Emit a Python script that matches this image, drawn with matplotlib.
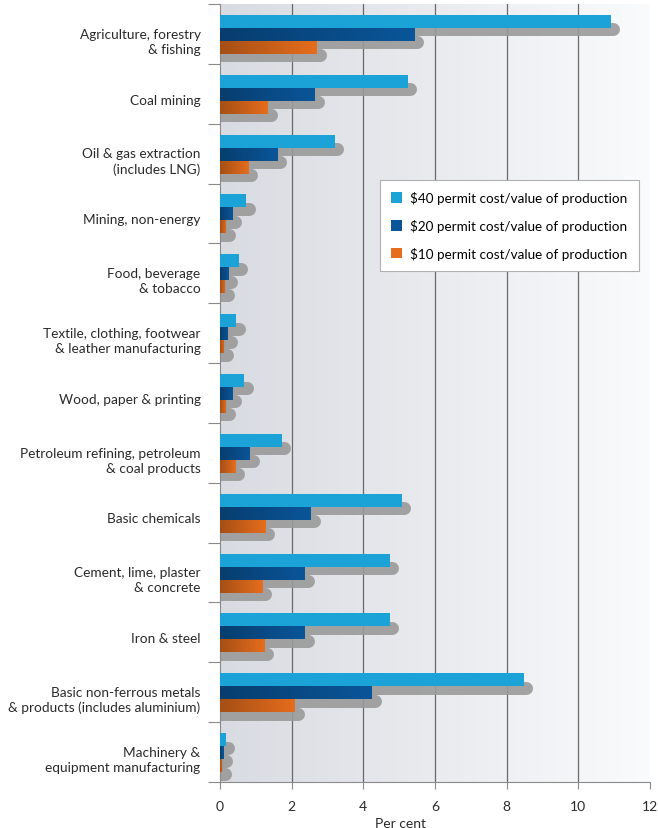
import numpy as np
import matplotlib.pyplot as plt
from matplotlib.colors import LinearSegmentedColormap
from matplotlib.patches import Patch

plt.rcParams['font.family'] = ['Lato', 'DejaVu Sans']

# permit cost as share of value of production (per cent)
sectors = [
    "Agriculture, forestry\n& fishing",
    "Coal mining",
    "Oil & gas extraction\n(includes LNG)",
    "Mining, non-energy",
    "Food, beverage\n& tobacco",
    "Textile, clothing, footwear\n& leather manufacturing",
    "Wood, paper & printing",
    "Petroleum refining, petroleum\n& coal products",
    "Basic chemicals",
    "Cement, lime, plaster\n& concrete",
    "Iron & steel",
    "Basic non-ferrous metals\n& products (includes aluminium)",
    "Machinery &\nequipment manufacturing",
]
p40 = [10.9, 5.24, 3.2, 0.73, 0.52, 0.46, 0.67, 1.72, 5.07, 4.74, 4.74, 8.47, 0.16]
p20 = [5.44, 2.66, 1.61, 0.35, 0.25, 0.23, 0.35, 0.85, 2.55, 2.38, 2.38, 4.25, 0.11]
p10 = [2.72, 1.35, 0.80, 0.18, 0.14, 0.12, 0.18, 0.44, 1.28, 1.19, 1.25, 2.10, 0.06]
series = [
    (p40, "$40 permit cost/value of production", "#1ba2d6"),
    (p20, "$20 permit cost/value of production", "#0a5599"),
    (p10, "$10 permit cost/value of production", "#e56d1d"),
]
xticks = [0, 2, 4, 6, 8, 10, 12]

fig = plt.figure(figsize=(6.58, 8.29), dpi=100)
W = 430
ax = fig.add_axes([220/658, 46/829, W/658, 778/829])
n = len(sectors)
ppu = W / 12  # pixels per x unit
ax.set_xlim(0, 12)
ax.set_ylim(n, 0)

# background gradient
bg = LinearSegmentedColormap.from_list("bg", ["#d8dbe1", "#e9ebef", "#fafbfc"])
ax.imshow(np.linspace(0, 1, 256)[None, :], cmap=bg, extent=[0, 12, n, 0],
          aspect="auto", zorder=0, interpolation="bilinear")

for x in xticks[1:-1]:
    ax.axvline(x, color="#6a6a6a", lw=0.9, zorder=1)

h = 0.217
start = 0.183
dx, dy = 9 / ppu, 0.133
lw_pt = h * 778 / n * 72 / 100
cap = h * 778 / n / 2 / ppu
shade = LinearSegmentedColormap.from_list(
    "shade", [(0, 0, 0, 0.28), (0, 0, 0, 0.0)])
idx = np.arange(n)

# shadows
for k, (vals, lab, col) in enumerate(series):
    for i, v in enumerate(vals):
        yc = i + start + k * h + h / 2 + dy
        ax.plot([0, v + dx - cap], [yc, yc], color="#9a9a9a", lw=lw_pt,
                solid_capstyle="round", zorder=2, alpha=0.9)

# bars
for k, (vals, lab, col) in enumerate(series):
    yc = idx + start + k * h + h / 2
    ax.barh(yc, vals, height=h, color=col, zorder=3, label=lab)
    if k > 0:
        for i, v in enumerate(vals):
            ax.imshow(np.linspace(0, 1, 64)[None, :], cmap=shade,
                      extent=[0, v, yc[i] + h / 2, yc[i] - h / 2],
                      aspect="auto", zorder=4, interpolation="bilinear")
ax.set_xlim(0, 12)
ax.set_ylim(n, 0)

ax.set_yticks(np.arange(n + 1))
ax.set_yticklabels([])
ax.tick_params(axis="y", length=9, color="#8a8a8a", width=0.8)
ax.set_yticks(idx + 0.58, labels=sectors, minor=True)
ax.tick_params(axis="y", which="minor", length=0, pad=14, labelsize=9.8,
               labelcolor="#2a2a2a")
for t in ax.get_yticklabels(minor=True):
    t.set_horizontalalignment("right")
    t.set_multialignment("right")
    t.set_linespacing(1.3)

ax.set_xticks(xticks)
ax.tick_params(axis="x", length=5, color="#8a8a8a", width=0.8, labelsize=10,
               labelcolor="#2a2a2a", pad=8)
ax.set_xlabel("Per cent", fontsize=10, color="#2a2a2a")
ax.xaxis.set_label_coords(0.42, -0.045)

for s in ["top", "right"]:
    ax.spines[s].set_visible(False)
for s in ["left", "bottom"]:
    ax.spines[s].set_color("#8a8a8a")
    ax.spines[s].set_linewidth(0.8)

handles = [Patch(facecolor=c, edgecolor="none", label=l) for _, l, c in series]
leg = ax.legend(handles=handles, loc="upper left",
                bbox_to_anchor=(160 / W, 0.774),
                fontsize=9.7, frameon=True, fancybox=False, framealpha=1,
                edgecolor="#b0b0b0", handlelength=0.8, handleheight=0.8,
                handletextpad=0.6, labelspacing=1.1, borderpad=0.85,
                borderaxespad=0)
leg.get_frame().set_linewidth(0.8)
leg.set_zorder(6)

fig.savefig("out.png", dpi=100)
